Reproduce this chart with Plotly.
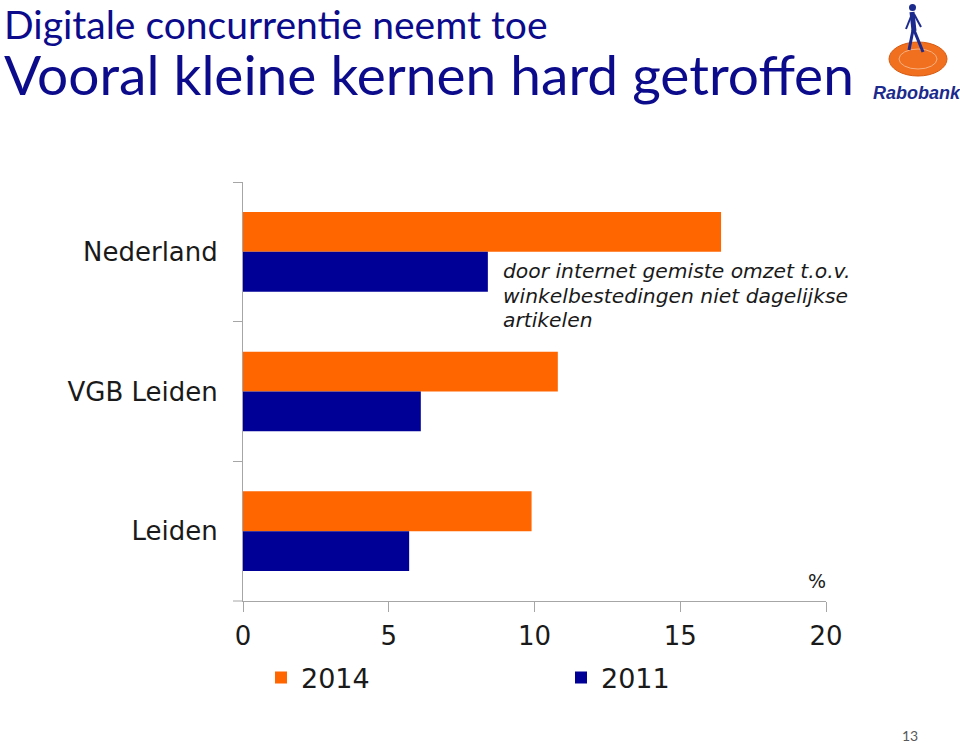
import plotly.graph_objects as go

# ---- data ----
regions = ["Nederland", "VGB Leiden", "Leiden"]
values_2014 = [16.4, 10.8, 9.9]
values_2011 = [8.4, 6.1, 5.7]
series_names = ["2014", "2011"]
x_ticks = [0, 5, 10, 15, 20]
title_lines = ["Digitale concurrentie neemt toe", "Vooral kleine kernen hard getroffen"]
note_lines = ["door internet gemiste omzet t.o.v.", "winkelbestedingen niet dagelijkse", "artikelen"]

ORANGE = "#FF6600"
BLUE = "#000096"
NAVY = "#0B0B8C"
GREY = "#A6A6A6"
TXT = "#1a1a1a"

W, H = 960, 746
L, R, T, B = 243, 826, 182, 601


def px(xp):
    return (xp - L) / (R - L)


def py(yp):
    return (B - yp) / (B - T)


fig = go.Figure()
fig.add_trace(go.Bar(y=regions, x=values_2014, name=series_names[0], orientation="h",
                     marker=dict(color=ORANGE, line=dict(width=0)), legend="legend"))
fig.add_trace(go.Bar(y=regions, x=values_2011, name=series_names[1], orientation="h",
                     marker=dict(color=BLUE, line=dict(width=0)), legend="legend2"))

title_text = ("<span style='font-size:39px'>" + title_lines[0] + "</span><br>"
              "<span style='font-size:55px'>" + title_lines[1] + "</span>")

annotations = [
    dict(text=title_text, x=px(3), y=py(0), xref="paper", yref="paper",
         xanchor="left", yanchor="top", align="left", showarrow=False, borderpad=0,
         font=dict(family="Lato", size=43, color=NAVY)),
    dict(text="%", x=px(817), y=py(581), xref="paper", yref="paper", xanchor="center", yanchor="middle",
         showarrow=False, font=dict(family="DejaVu Sans", size=19, color=TXT)),
    dict(text="<b><i>Rabobank</i></b>", x=px(917), y=py(93), xref="paper", yref="paper",
         xanchor="center", yanchor="middle", showarrow=False,
         font=dict(family="Liberation Sans", size=18, color="#1B2A8C")),
    dict(text="13", x=px(910), y=py(735), xref="paper", yref="paper", xanchor="center", yanchor="middle",
         showarrow=False, font=dict(family="Lato", size=14, color="#595959")),
]
for i, line in enumerate(note_lines):
    annotations.append(dict(text="<i>" + line + "</i>", x=px(501), y=py(271 + 24.5 * i),
                            xref="paper", yref="paper", xanchor="left", yanchor="middle",
                            showarrow=False, font=dict(family="DejaVu Sans", size=20.3, color=TXT)))

LOGO = "#1B2A8C"
shapes = [
    dict(type="line", xref="paper", yref="paper", x0=px(233), x1=px(243), y0=0, y1=0,
         line=dict(color=GREY, width=1)),
    dict(type="circle", xref="paper", yref="paper", x0=px(889), x1=px(947), y0=py(42), y1=py(76),
         fillcolor="#F07020", line=dict(color="#D85A10", width=1)),
    dict(type="circle", xref="paper", yref="paper", x0=px(899), x1=px(937), y0=py(49), y1=py(69),
         fillcolor="rgba(0,0,0,0)", line=dict(color="#F8B080", width=1)),
    dict(type="circle", xref="paper", yref="paper", x0=px(909), x1=px(916), y0=py(4), y1=py(11),
         fillcolor=LOGO, line=dict(width=0)),
    dict(type="line", xref="paper", yref="paper", x0=px(912), x1=px(914), y0=py(12), y1=py(31),
         line=dict(color=LOGO, width=5)),
    dict(type="line", xref="paper", yref="paper", x0=px(913), x1=px(909), y0=py(30), y1=py(50),
         line=dict(color=LOGO, width=3)),
    dict(type="line", xref="paper", yref="paper", x0=px(914), x1=px(923), y0=py(30), y1=py(52),
         line=dict(color=LOGO, width=3)),
    dict(type="line", xref="paper", yref="paper", x0=px(912), x1=px(906), y0=py(14), y1=py(29),
         line=dict(color=LOGO, width=2)),
    dict(type="line", xref="paper", yref="paper", x0=px(914), x1=px(921), y0=py(14), y1=py(27),
         line=dict(color=LOGO, width=2)),
]

legend_style = dict(orientation="h", xanchor="left", yanchor="middle", bgcolor="rgba(0,0,0,0)",
                    font=dict(family="DejaVu Sans", size=27, color=TXT), itemwidth=30)

fig.update_layout(
    width=W, height=H,
    margin=dict(l=L, r=W - R, t=T, b=H - B, pad=0),
    paper_bgcolor="white", plot_bgcolor="white",
    barmode="group", bargap=0.43, bargroupgap=0,
    showlegend=True,
    legend=dict(x=px(261), y=py(678), **legend_style),
    legend2=dict(x=px(561), y=py(678), **legend_style),
    xaxis=dict(range=[0, 20], tickvals=x_ticks, ticktext=[str(v) for v in x_ticks],
               showgrid=False, zeroline=False, showline=True, linecolor=GREY, linewidth=1,
               ticks="outside", ticklen=10, tickcolor=GREY, ticklabelstandoff=2,
               tickfont=dict(family="DejaVu Sans", size=26, color=TXT), fixedrange=True),
    yaxis=dict(categoryorder="array", categoryarray=regions, autorange="reversed",
               showgrid=False, zeroline=False, showline=True, linecolor=GREY, linewidth=1,
               ticks="outside", ticklen=9, tickcolor=GREY, tickson="boundaries",
               ticklabelstandoff=19,
               tickfont=dict(family="DejaVu Sans", size=26, color=TXT), fixedrange=True),
    annotations=annotations,
    shapes=shapes,
)

fig.write_html("out.html", config={"displayModeBar": False},
               post_script="document.body.style.margin='0px';")
